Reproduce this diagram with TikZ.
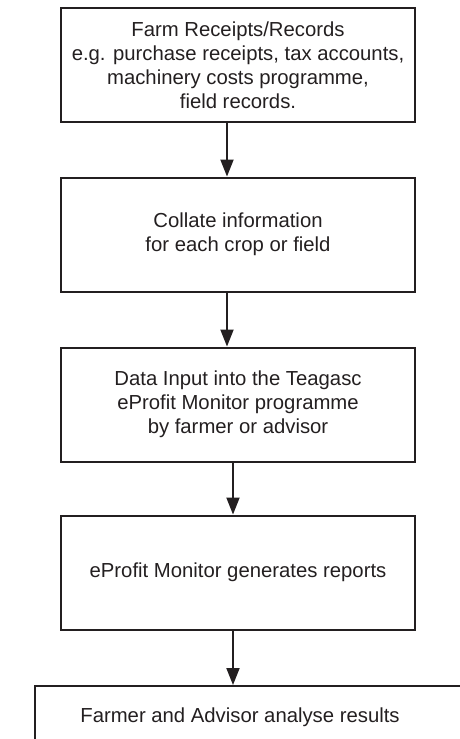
\documentclass[tikz,border=0pt]{standalone}
\usepackage{fontspec}
\setmainfont{Liberation Sans}
\usetikzlibrary{arrows.meta}
\definecolor{ink}{HTML}{231F20}
\tikzset{
  box/.style={draw=ink, line width=2pt, rectangle, minimum width=354pt, minimum height=114pt,
    align=center, text=ink, font=\fontsize{20.3}{24}\selectfont, inner sep=0pt},
  lbl/.style={text=ink, font=\fontsize{20.3}{24}\selectfont, inner sep=0pt},
  flow/.style={draw=ink, line width=2pt, -{Triangle[width=13pt,length=17pt]}}
}
\begin{document}
\begin{tikzpicture}[x=1pt,y=-1pt]
\useasboundingbox (0,0) rectangle (460,739);
\clip (0,0) rectangle (460,739);
\node[box] (b1) at (238,65) {Farm Receipts/Records\\e.g. purchase receipts, tax accounts,\\machinery costs programme,\\field records.};
\node[box] (b2) at (238,234.5) {Collate information\\for each crop or field};
\node[box] (b3) at (238,404.5) {Data Input into the Teagasc\\eProfit Monitor programme\\by farmer or advisor};
\node[box] (b4) at (238,572.5) {eProfit Monitor generates reports};
\node[box, minimum width=445pt, minimum height=115pt, anchor=north] (b5) at (257.5,685) {};
\node[lbl] (t5) at (240,717) {Farmer and Advisor analyse results};
\draw[flow] ([xshift=-11pt]b1.south) -- ([xshift=-11pt]b2.north);
\draw[flow] ([xshift=-11pt]b2.south) -- ([xshift=-11pt]b3.north);
\draw[flow] ([xshift=-5pt]b3.south) -- ([xshift=-5pt]b4.north);
\draw[flow] ([xshift=-5pt]b4.south) -- ([xshift=-5pt]b4.south |- b5.north);
\end{tikzpicture}
\end{document}
